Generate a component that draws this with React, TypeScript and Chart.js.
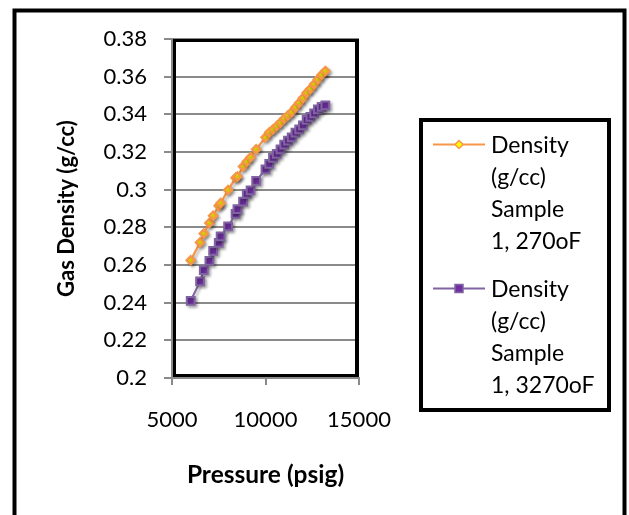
import React, { useEffect, useRef } from "react";
import { Chart, registerables } from "chart.js";

Chart.register(...registerables);

const pressures = [6000, 6500, 6700, 7000, 7200, 7500, 7600, 8000, 8400, 8500, 8800, 9000, 9200, 9500, 10000, 10200, 10400, 10600, 10800, 11000, 11200, 11400, 11600, 11800, 12000, 12200, 12400, 12600, 12800, 13000, 13200];
const density270 = [0.2625, 0.272, 0.2767, 0.2823, 0.2862, 0.2915, 0.2929, 0.2998, 0.3063, 0.307, 0.3123, 0.3149, 0.3172, 0.3214, 0.3278, 0.3304, 0.332, 0.3338, 0.3356, 0.3377, 0.3394, 0.3412, 0.3437, 0.3461, 0.3486, 0.3514, 0.3535, 0.356, 0.3585, 0.361, 0.363];
const density3270 = [0.241, 0.2513, 0.2573, 0.2622, 0.2675, 0.2717, 0.2752, 0.2805, 0.2872, 0.2897, 0.2936, 0.2978, 0.2996, 0.3047, 0.3108, 0.3137, 0.3169, 0.319, 0.3214, 0.3239, 0.326, 0.3278, 0.3303, 0.332, 0.3341, 0.337, 0.3387, 0.3405, 0.3426, 0.344, 0.3447];
const seriesNames = ["Density (g/cc) Sample 1, 270oF", "Density (g/cc) Sample 1, 3270oF"];
const legendLines = [
  ["Density", "(g/cc)", "Sample", "1, 270oF"],
  ["Density", "(g/cc)", "Sample", "1, 3270oF"],
];
const xTitle = "Pressure (psig)";
const yTitle = "Gas Density (g/cc)";

const FONT = "Lato, 'Open Sans', sans-serif";
const ORANGE = "#F79646";
const PURPLE_LINE = "#8064A2";
const PURPLE_FILL = "#7030A0";
const GRID = "#8a8a8a";

export default function App() {
  const ref = useRef<HTMLCanvasElement | null>(null);
  useEffect(() => {
    document.body.style.margin = "0";
    const canvas = ref.current;
    if (!canvas) return;

    const decor = {
      id: "decor",
      beforeDatasetsDraw(chart: any) {
        const ctx = chart.ctx;
        ctx.save();
        ctx.shadowColor = "rgba(0,0,0,0.3)";
        ctx.shadowBlur = 3;
        ctx.shadowOffsetX = 2;
        ctx.shadowOffsetY = 2;
      },
      afterDatasetsDraw(chart: any) {
        chart.ctx.restore();
      },
      afterDraw(chart: any) {
        const ctx = chart.ctx;
        const a = chart.chartArea;
        ctx.save();
        // plot area border
        ctx.strokeStyle = "#000";
        ctx.lineWidth = 3;
        ctx.strokeRect(a.left + 2.5, a.top + 1.5, a.right - a.left - 5, a.bottom - a.top - 4);
        ctx.lineWidth = 4;
        ctx.beginPath();
        ctx.moveTo(a.right - 2, a.top);
        ctx.lineTo(a.right - 2, a.bottom - 1);
        ctx.stroke();
        // outer border
        ctx.lineWidth = 4;
        ctx.strokeRect(14.5, 10.5, 610, 530);
        // legend
        const bx = 421, by = 120, bw = 188, bh = 290;
        ctx.lineWidth = 4;
        ctx.strokeStyle = "#000";
        ctx.strokeRect(bx, by, bw, bh);
        const baselines = [153, 297];
        const lineH = 32;
        chart.data.datasets.forEach((ds: any, i: number) => {
          const ly = baselines[i] - 8.5;
          ctx.strokeStyle = ds.borderColor;
          ctx.lineWidth = 2;
          ctx.beginPath();
          ctx.moveTo(433, ly);
          ctx.lineTo(485, ly);
          ctx.stroke();
          ctx.fillStyle = ds.pointBackgroundColor;
          ctx.strokeStyle = ds.pointBorderColor;
          ctx.lineWidth = 1.5;
          ctx.beginPath();
          if (ds.pointStyle === "rectRot") {
            const r = 4;
            ctx.moveTo(459, ly - r);
            ctx.lineTo(459 + r, ly);
            ctx.lineTo(459, ly + r);
            ctx.lineTo(459 - r, ly);
            ctx.closePath();
          } else {
            ctx.rect(455, ly - 4, 8, 8);
          }
          ctx.fill();
          ctx.stroke();
          ctx.fillStyle = "#000";
          ctx.font = `23px ${FONT}`;
          ctx.textAlign = "left";
          ctx.textBaseline = "alphabetic";
          legendLines[i].forEach((t, k) => {
            ctx.fillText(t, 491, baselines[i] + k * lineH);
          });
        });
        ctx.restore();
      },
    };

    const chart = new Chart(canvas, {
      type: "line",
      data: {
        datasets: [
          {
            label: seriesNames[0],
            data: pressures.map((p, i) => ({ x: p, y: density270[i] })),
            borderColor: ORANGE,
            borderWidth: 2.25,
            pointStyle: "rectRot",
            pointRadius: 4,
            pointBorderWidth: 2.5,
            pointBackgroundColor: "#FFFF00",
            pointBorderColor: ORANGE,
            tension: 0,
          },
          {
            label: seriesNames[1],
            data: pressures.map((p, i) => ({ x: p, y: density3270[i] })),
            borderColor: PURPLE_LINE,
            borderWidth: 2,
            pointStyle: "rect",
            pointRadius: 5.5,
            pointBorderWidth: 2,
            pointBackgroundColor: PURPLE_FILL,
            pointBorderColor: PURPLE_LINE,
            tension: 0,
          },
        ],
      },
      options: {
        responsive: false,
        animation: false,
        layout: { padding: { left: 12, right: 270, top: 39, bottom: 0 } },
        plugins: { legend: { display: false }, tooltip: { enabled: false } },
        scales: {
          x: {
            type: "linear",
            min: 5000,
            max: 15000,
            afterFit: (s: any) => { s.height = 137; },
            ticks: {
              stepSize: 5000,
              color: "#000",
              padding: 22,
              font: { family: FONT, size: 22 },
              callback: (v: any) => String(v),
              maxRotation: 0,
            },
            grid: { drawOnChartArea: false, drawTicks: true, tickLength: 7, color: GRID, lineWidth: 2 },
            border: { color: GRID, width: 2 },
            title: {
              display: true,
              text: xTitle,
              color: "#000",
              font: { family: FONT, size: 24.5, weight: "bold" },
              padding: { bottom: 25, top: 0 },
            },
          },
          y: {
            type: "linear",
            min: 0.2,
            max: 0.38,
            afterFit: (s: any) => { s.width = 160; },
            ticks: {
              stepSize: 0.02,
              color: "#000",
              padding: 17,
              font: { family: FONT, size: 22 },
              callback: (v: any) => String(parseFloat(Number(v).toFixed(2))),
            },
            grid: { drawTicks: true, tickLength: 8, color: GRID, lineWidth: 2 },
            border: { color: GRID, width: 2 },
            title: {
              display: true,
              text: yTitle,
              color: "#000",
              font: { family: FONT, size: 22, weight: "bold" },
              padding: { top: 42, bottom: 0 },
            },
          },
        },
      },
      plugins: [decor],
    } as any);
    return () => chart.destroy();
  }, []);
  return (
    <div style={{ width: 629, height: 515, background: "#fff" }}>
      <canvas ref={ref} width={629} height={515} />
    </div>
  );
}
